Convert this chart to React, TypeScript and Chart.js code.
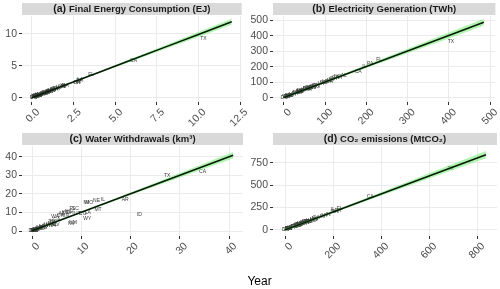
import React, { useEffect, useRef } from "react";
import { Chart, registerables } from "chart.js";

Chart.register(...registerables);

const FONT = '"Liberation Sans", Arial, Helvetica, sans-serif';
Chart.defaults.font.family = FONT;

// ---------------- DATA ----------------
const states = [
  "TX", "CA", "FL", "LA", "IL", "PA", "OH", "NY", "GA", "MI", "IN", "NC", "NJ",
  "VA", "TN", "WA", "KY", "AL", "MO", "MN", "WI", "SC", "OK", "AZ", "IA", "MA",
  "CO", "MD", "MS", "KS", "AR", "OR", "UT", "NE", "WV", "NM", "NV", "CT", "WY",
  "ND", "ID", "AK", "MT", "ME", "SD", "NH", "HI", "DE", "RI", "DC", "VT",
];

// (a) Final energy consumption, EJ
const energyObserved = [
  10.3, 6.1, 3.55, 2.9, 2.8, 2.85, 2.7, 2.75, 2.0, 1.9, 1.85, 1.8, 1.6,
  1.5, 1.4, 1.35, 1.3, 1.25, 1.2, 1.15, 1.1, 1.0, 1.05, 0.95, 0.9, 0.85,
  0.88, 0.8, 0.75, 0.7, 0.65, 0.6, 0.52, 0.5, 0.45, 0.4, 0.38, 0.43, 0.35,
  0.36, 0.3, 0.4, 0.28, 0.25, 0.2, 0.2, 0.18, 0.15, 0.13, 0.1, 0.08,
];
const energyModelled = [
  9.2, 5.8, 3.56, 2.9, 2.6, 2.75, 2.45, 2.35, 1.92, 1.82, 1.86, 1.72, 1.55,
  1.46, 1.38, 1.3, 1.24, 1.28, 1.14, 1.1, 1.05, 0.96, 1.01, 0.9, 0.88, 0.8,
  0.84, 0.76, 0.7, 0.72, 0.62, 0.58, 0.5, 0.48, 0.46, 0.42, 0.36, 0.41, 0.35,
  0.38, 0.3, 0.37, 0.27, 0.24, 0.2, 0.19, 0.17, 0.15, 0.12, 0.1, 0.08,
];
const energyFitX = [0, 2, 4, 6, 8, 10, 12];
const energyFitY = [0.02, 2.0, 3.97, 5.95, 7.93, 9.91, 11.9];
const energyBandLow = [-0.05, 1.93, 3.84, 5.74, 7.63, 9.52, 11.42];
const energyBandHigh = [0.09, 2.07, 4.1, 6.16, 8.23, 10.3, 12.38];
const energyXTicks = [0, 2.5, 5, 7.5, 10, 12.5];
const energyXTickLabels = ["0.0", "2.5", "5.0", "7.5", "10.0", "12.5"];
const energyYTicks = [0, 5, 10];
const energyYTickLabels = ["0", "5", "10"];

// (b) Electricity generation, TWh
const elecObserved = [
  405, 180, 231, 100, 195, 209, 120, 135, 125, 115, 100, 130, 70,
  90, 78, 110, 75, 145, 78, 58, 62, 95, 70, 110, 60, 30,
  55, 40, 55, 50, 60, 60, 38, 38, 70, 32, 40, 38, 45,
  40, 18, 7, 28, 12, 14, 20, 10, 7, 8, 0.5, 3,
];
const elecModelled = [
  360, 168, 248, 102, 200, 222, 125, 128, 130, 118, 96, 136, 67,
  88, 80, 104, 78, 140, 74, 61, 65, 98, 73, 113, 57, 33,
  57, 43, 58, 52, 55, 63, 41, 36, 66, 35, 42, 35, 43,
  38, 16, 8, 26, 15, 13, 18, 11, 6, 7, 1, 4,
];
const elecFitX = [0, 100, 200, 300, 400, 485];
const elecFitY = [1, 101, 201, 301, 401, 487];
const elecBandLow = [-6, 95, 192, 287, 382, 465];
const elecBandHigh = [8, 107, 210, 315, 420, 509];
const elecXTicks = [0, 100, 200, 300, 400, 500];
const elecXTickLabels = ["0", "100", "200", "300", "400", "500"];
const elecYTicks = [0, 100, 200, 300, 400, 500];
const elecYTickLabels = ["0", "100", "200", "300", "400", "500"];

// (c) Water withdrawals, km3
const waterObserved = [
  27.4, 34.6, 8.2, 11.3, 14.4, 4.2, 7.7, 3.9, 5.0, 11.0, 7.0, 7.4, 1.5,
  3.0, 4.0, 4.7, 2.8, 4.5, 11.6, 2.2, 3.5, 8.8, 2.0, 6.0, 4.3, 0.8,
  10.3, 1.8, 2.3, 6.7, 18.9, 5.8, 9.2, 13.1, 4.8, 8.3, 8.0, 1.0, 11.2,
  1.4, 21.8, 0.3, 13.4, 0.4, 0.8, 0.5, 0.6, 0.6, 0.2, 0.01, 0.3,
];
const waterModelled = [
  29.7, 32.0, 11.9, 9.9, 16.7, 4.5, 10.0, 4.0, 6.2, 15.3, 8.4, 10.4, 1.8,
  3.5, 4.8, 7.5, 3.0, 3.3, 15.5, 2.5, 3.0, 11.9, 1.8, 9.2, 2.8, 0.7,
  9.6, 1.4, 1.7, 9.7, 17.1, 8.3, 9.2, 16.2, 3.4, 4.5, 4.0, 0.8, 6.5,
  1.2, 9.0, 0.4, 11.3, 0.3, 0.9, 0.4, 0.5, 0.4, 0.2, 0.05, 0.2,
];
const waterFitX = [0, 10, 20, 30, 40.8];
const waterFitY = [0.1, 10.1, 20.1, 30.1, 40.9];
const waterBandLow = [-0.3, 9.75, 19.4, 28.9, 39.1];
const waterBandHigh = [0.5, 10.45, 20.8, 31.3, 42.7];
const waterXTicks = [0, 10, 20, 30, 40];
const waterXTickLabels = ["0", "10", "20", "30", "40"];
const waterYTicks = [0, 10, 20, 30, 40];
const waterYTickLabels = ["0", "10", "20", "30", "40"];

// (d) CO2 emissions, MtCO2
const co2Observed = [
  690, 355, 228, 210, 200, 220, 205, 165, 130, 155, 180, 125, 100,
  100, 95, 75, 125, 115, 120, 85, 90, 75, 100, 90, 75, 60,
  85, 55, 65, 70, 60, 40, 60, 50, 90, 50, 40, 35, 60,
  55, 20, 35, 30, 15, 15, 14, 18, 13, 10, 3, 6,
];
const co2Modelled = [
  680, 370, 235, 200, 225, 215, 210, 160, 135, 150, 175, 130, 95,
  105, 92, 70, 120, 110, 118, 83, 87, 78, 98, 88, 72, 65,
  88, 58, 68, 68, 62, 42, 58, 48, 95, 52, 38, 37, 55,
  52, 22, 33, 32, 16, 14, 13, 19, 12, 11, 3, 6,
];
const co2FitX = [0, 200, 400, 600, 837];
const co2FitY = [1, 201, 402, 603, 840];
const co2BandLow = [-12, 190, 383, 574, 800];
const co2BandHigh = [14, 212, 421, 632, 880];
const co2XTicks = [0, 200, 400, 600, 800];
const co2XTickLabels = ["0", "200", "400", "600", "800"];
const co2YTicks = [0, 250, 500, 750];
const co2YTickLabels = ["0", "250", "500", "750"];

const xAxisTitle = "Year";

// ---------------- PANELS ----------------
type PanelSpec = {
  tag: string;
  title: string;
  xs: number[];
  ys: number[];
  fitX: number[];
  fitY: number[];
  bandLow: number[];
  bandHigh: number[];
  xTicks: number[];
  xTickLabels: string[];
  yTicks: number[];
  yTickLabels: string[];
  xMin: number;
  xMax: number;
  yMin: number;
  yMax: number;
  left: number;
  top: number;
  width: number;
  height: number;
  yAxisWidth: number;
  xAxisHeight: number;
  padTop: number;
  padRight: number;
};

const panels: PanelSpec[] = [
  {
    tag: "(a)", title: "Final Energy Consumption (EJ)",
    xs: energyObserved, ys: energyModelled,
    fitX: energyFitX, fitY: energyFitY, bandLow: energyBandLow, bandHigh: energyBandHigh,
    xTicks: energyXTicks, xTickLabels: energyXTickLabels,
    yTicks: energyYTicks, yTickLabels: energyYTickLabels,
    xMin: -0.6, xMax: 12.6, yMin: -0.65, yMax: 12.8,
    left: 0, top: 0, width: 250, height: 130,
    yAxisWidth: 22, xAxisHeight: 28, padTop: 16, padRight: 7,
  },
  {
    tag: "(b)", title: "Electricity Generation (TWh)",
    xs: elecObserved, ys: elecModelled,
    fitX: elecFitX, fitY: elecFitY, bandLow: elecBandLow, bandHigh: elecBandHigh,
    xTicks: elecXTicks, xTickLabels: elecXTickLabels,
    yTicks: elecYTicks, yTickLabels: elecYTickLabels,
    xMin: -26.5, xMax: 513, yMin: -28, yMax: 527,
    left: 240, top: 0, width: 260, height: 130,
    yAxisWidth: 33, xAxisHeight: 28, padTop: 16, padRight: 3,
  },
  {
    tag: "(c)", title: "Water Withdrawals (km³)",
    xs: waterObserved, ys: waterModelled,
    fitX: waterFitX, fitY: waterFitY, bandLow: waterBandLow, bandHigh: waterBandHigh,
    xTicks: waterXTicks, xTickLabels: waterXTickLabels,
    yTicks: waterYTicks, yTickLabels: waterYTickLabels,
    xMin: -2.03, xMax: 42.8, yMin: -2.7, yMax: 45.9,
    left: 0, top: 130, width: 250, height: 150,
    yAxisWidth: 22, xAxisHeight: 44, padTop: 16, padRight: 7,
  },
  {
    tag: "(d)", title: "CO₂ emissions (MtCO₂)",
    xs: co2Observed, ys: co2Modelled,
    fitX: co2FitX, fitY: co2FitY, bandLow: co2BandLow, bandHigh: co2BandHigh,
    xTicks: co2XTicks, xTickLabels: co2XTickLabels,
    yTicks: co2YTicks, yTickLabels: co2YTickLabels,
    xMin: -50, xMax: 883, yMin: -67, yMax: 937,
    left: 240, top: 130, width: 260, height: 150,
    yAxisWidth: 33, xAxisHeight: 44, padTop: 16, padRight: 3,
  },
];

function makeStripPlugin(tag: string, title: string) {
  return {
    id: "strip",
    beforeDraw(chart: any) {
      const { ctx, chartArea } = chart;
      ctx.save();
      ctx.fillStyle = "#d9d9d9";
      ctx.fillRect(chartArea.left, chartArea.top - 13, chartArea.right - chartArea.left, 12);
      ctx.fillStyle = "#1a1a1a";
      ctx.textBaseline = "middle";
      ctx.textAlign = "left";
      const tagFont = `bold 10.5px ${FONT}`;
      const titleFont = `bold 9.5px ${FONT}`;
      ctx.font = tagFont;
      const wTag = ctx.measureText(tag + " ").width;
      ctx.font = titleFont;
      const wTitle = ctx.measureText(title).width;
      const x0 = (chartArea.left + chartArea.right) / 2 - (wTag + wTitle) / 2;
      const y = chartArea.top - 6.5;
      ctx.font = tagFont;
      ctx.fillText(tag, x0, y);
      ctx.font = titleFont;
      ctx.fillText(title, x0 + wTag, y);
      ctx.restore();
    },
  };
}

function makeLabelPlugin(names: string[]) {
  return {
    id: "stateLabels",
    beforeDatasetsDraw(chart: any) {
      const { ctx, chartArea } = chart;
      const meta = chart.getDatasetMeta(3);
      ctx.save();
      ctx.beginPath();
      ctx.rect(chartArea.left, chartArea.top, chartArea.right - chartArea.left, chartArea.bottom - chartArea.top);
      ctx.clip();
      ctx.font = `5px ${FONT}`;
      ctx.fillStyle = "#3a3a3a";
      ctx.textAlign = "center";
      ctx.textBaseline = "middle";
      meta.data.forEach((el: any, i: number) => {
        ctx.fillText(names[i], el.x, el.y);
      });
      ctx.restore();
    },
  };
}

function Panel({ spec }: { spec: PanelSpec }) {
  const ref = useRef<HTMLCanvasElement | null>(null);
  useEffect(() => {
    const canvas = ref.current;
    if (!canvas) return;
    const pts = (xs: number[], ys: number[]) => xs.map((x, i) => ({ x, y: ys[i] }));
    const tickFont = { size: 10.5, family: FONT };
    const chart = new Chart(canvas, {
      type: "scatter",
      data: {
        datasets: [
          {
            label: "fit",
            data: pts(spec.fitX, spec.fitY),
            showLine: true,
            borderColor: "#041a04",
            borderWidth: 1.5,
            pointRadius: 0,
            fill: false,
            order: 0,
          },
          {
            label: "upper",
            data: pts(spec.fitX, spec.bandHigh),
            showLine: true,
            borderWidth: 0,
            borderColor: "rgba(0,0,0,0)",
            backgroundColor: "rgba(100,235,100,0.5)",
            pointRadius: 0,
            fill: "+1",
            order: 1,
          },
          {
            label: "lower",
            data: pts(spec.fitX, spec.bandLow),
            showLine: true,
            borderWidth: 0,
            borderColor: "rgba(0,0,0,0)",
            pointRadius: 0,
            fill: false,
            order: 2,
          },
          {
            label: "states",
            data: pts(spec.xs, spec.ys),
            showLine: false,
            pointRadius: 0,
            order: 3,
          },
        ],
      },
      options: {
        responsive: false,
        maintainAspectRatio: false,
        animation: false,
        devicePixelRatio: 1,
        events: [],
        layout: { padding: { top: spec.padTop, right: spec.padRight, left: 0, bottom: 0 } },
        plugins: { legend: { display: false }, tooltip: { enabled: false }, title: { display: false } },
        scales: {
          x: {
            type: "linear",
            min: spec.xMin,
            max: spec.xMax,
            afterBuildTicks: (s: any) => {
              s.ticks = spec.xTicks.map((v) => ({ value: v }));
            },
            afterFit: (s: any) => {
              s.height = spec.xAxisHeight;
            },
            ticks: {
              autoSkip: false,
              minRotation: 45,
              maxRotation: 45,
              color: "#4d4d4d",
              font: tickFont,
              padding: 1,
              labelOffset: 6,
              callback: (_v: any, i: number) => spec.xTickLabels[i],
            },
            grid: { color: "#ebebeb", lineWidth: 1, tickColor: "#333333", tickLength: 3, tickWidth: 1 },
            border: { display: false },
          },
          y: {
            type: "linear",
            min: spec.yMin,
            max: spec.yMax,
            afterBuildTicks: (s: any) => {
              s.ticks = spec.yTicks.map((v) => ({ value: v }));
            },
            afterFit: (s: any) => {
              s.width = spec.yAxisWidth;
            },
            ticks: {
              autoSkip: false,
              color: "#4d4d4d",
              font: tickFont,
              padding: 2,
              callback: (_v: any, i: number) => spec.yTickLabels[i],
            },
            grid: { color: "#ebebeb", lineWidth: 1, tickColor: "#333333", tickLength: 3, tickWidth: 1 },
            border: { display: false },
          },
        },
      },
      plugins: [makeStripPlugin(spec.tag, spec.title), makeLabelPlugin(states)],
    } as any);
    return () => chart.destroy();
  }, [spec]);
  return (
    <canvas
      ref={ref}
      width={spec.width}
      height={spec.height}
      style={{ position: "absolute", left: spec.left, top: spec.top, width: spec.width, height: spec.height }}
    />
  );
}

export default function App() {
  return (
    <div
      style={{
        position: "absolute",
        left: 0,
        top: 0,
        width: 500,
        height: 289,
        background: "#ffffff",
        overflow: "hidden",
      }}
    >
      {panels.map((p) => (
        <Panel key={p.tag} spec={p} />
      ))}
      <div
        style={{
          position: "absolute",
          left: 0,
          width: 519,
          top: 274,
          textAlign: "center",
          fontFamily: FONT,
          fontSize: 12,
          lineHeight: "14px",
          color: "#000000",
        }}
      >
        {xAxisTitle}
      </div>
    </div>
  );
}
